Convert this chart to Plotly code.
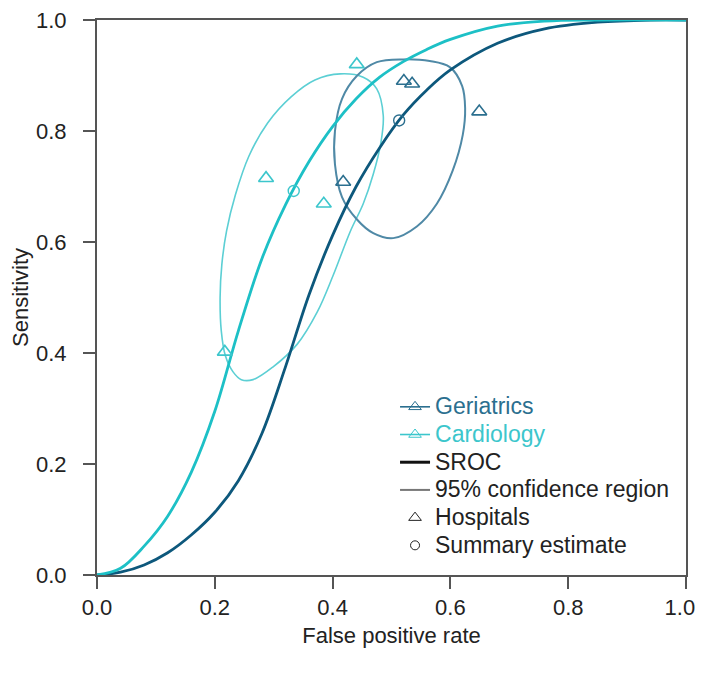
import plotly.graph_objects as go

# colours
GER = "#2b6f8f"
GER_SROC = "#0d587c"
GER_CR = "#4f89a6"
CAR = "#3cc6cc"
CAR_SROC = "#1dc0c6"
CAR_CR = "#5ccfd4"

# hospitals (false positive rate, sensitivity)
ger_fpr = [0.418, 0.521, 0.535, 0.649]
ger_sens = [0.708, 0.890, 0.885, 0.835]
car_fpr = [0.441, 0.287, 0.385, 0.217]
car_sens = [0.920, 0.715, 0.669, 0.402]

# summary estimates
ger_sum_fpr = [0.513]
ger_sum_sens = [0.819]
car_sum_fpr = [0.334]
car_sum_sens = [0.692]

# SROC curves
ger_sroc_x = [0.0, 0.04, 0.08, 0.12, 0.16, 0.20, 0.24, 0.28, 0.32, 0.36, 0.40,
              0.44, 0.48, 0.52, 0.56, 0.60, 0.68, 0.76, 0.85, 0.94, 1.0]
ger_sroc_y = [0.0, 0.005, 0.018, 0.040, 0.072, 0.113, 0.170, 0.255, 0.375, 0.505,
              0.612, 0.700, 0.770, 0.829, 0.874, 0.910, 0.958, 0.984, 0.996, 1.0, 1.0]
car_sroc_x = [0.0, 0.04, 0.08, 0.12, 0.16, 0.20, 0.24, 0.28, 0.32, 0.36, 0.40,
              0.44, 0.48, 0.52, 0.56, 0.60, 0.68, 0.76, 0.85, 1.0]
car_sroc_y = [0.0, 0.012, 0.052, 0.106, 0.185, 0.295, 0.440, 0.570, 0.667, 0.745,
              0.808, 0.858, 0.897, 0.925, 0.947, 0.965, 0.989, 0.998, 1.0, 1.0]

# 95% confidence regions
ger_cr_x = [0.520, 0.565, 0.599, 0.620, 0.625, 0.621, 0.604, 0.577, 0.543,
            0.503, 0.469, 0.441, 0.416, 0.404, 0.404, 0.416, 0.441, 0.475, 0.520]
ger_cr_y = [0.929, 0.926, 0.915, 0.881, 0.841, 0.793, 0.729, 0.669, 0.628,
            0.607, 0.616, 0.641, 0.681, 0.740, 0.800, 0.858, 0.899, 0.924, 0.929]
car_cr_x = [0.413, 0.452, 0.475, 0.486, 0.482, 0.469, 0.452, 0.430, 0.401,
            0.374, 0.340, 0.299, 0.265, 0.245, 0.231, 0.218, 0.211, 0.209,
            0.212, 0.220, 0.235, 0.258, 0.290, 0.330, 0.370, 0.413]
car_cr_y = [0.903, 0.897, 0.876, 0.828, 0.779, 0.722, 0.669, 0.619, 0.540,
            0.474, 0.416, 0.375, 0.352, 0.352, 0.366, 0.395, 0.440, 0.500,
            0.560, 0.620, 0.685, 0.755, 0.815, 0.862, 0.892, 0.903]

ticks = [0.0, 0.2, 0.4, 0.6, 0.8, 1.0]
tick_text = ["0.0", "0.2", "0.4", "0.6", "0.8", "1.0"]
# last x label nudged left with trailing spaces so it stays inside the page
x_tick_text = tick_text[:-1] + ["1.0&nbsp;&nbsp;"]

FONT = "Liberation Sans, Arial"
TXT = 22
LEG = 23

fig = go.Figure()

# confidence regions
fig.add_trace(go.Scatter(x=car_cr_x, y=car_cr_y, mode="lines", line_shape="spline",
                         line=dict(color=CAR_CR, width=1.6), showlegend=False))
fig.add_trace(go.Scatter(x=ger_cr_x, y=ger_cr_y, mode="lines", line_shape="spline",
                         line=dict(color=GER_CR, width=2), showlegend=False))

# sroc
fig.add_trace(go.Scatter(x=ger_sroc_x, y=ger_sroc_y, mode="lines", line_shape="spline",
                         line=dict(color=GER_SROC, width=2.8), showlegend=False,
                         cliponaxis=False))
fig.add_trace(go.Scatter(x=car_sroc_x, y=car_sroc_y, mode="lines", line_shape="spline",
                         line=dict(color=CAR_SROC, width=2.8), showlegend=False,
                         cliponaxis=False))

# hospitals
fig.add_trace(go.Scatter(x=ger_fpr, y=ger_sens, mode="markers", showlegend=False,
                         marker=dict(symbol="triangle-up-open", size=13, color=GER,
                                     line=dict(width=1.6))))
fig.add_trace(go.Scatter(x=car_fpr, y=car_sens, mode="markers", showlegend=False,
                         marker=dict(symbol="triangle-up-open", size=13, color=CAR,
                                     line=dict(width=1.6))))

# summary
fig.add_trace(go.Scatter(x=ger_sum_fpr, y=ger_sum_sens, mode="markers", showlegend=False,
                         marker=dict(symbol="circle-open", size=11, color=GER,
                                     line=dict(width=1.4))))
fig.add_trace(go.Scatter(x=car_sum_fpr, y=car_sum_sens, mode="markers", showlegend=False,
                         marker=dict(symbol="circle-open", size=11, color=CAR,
                                     line=dict(width=1.4))))


def lg(text, color="#222222"):
    return "<span style='font-size:%dpx;color:%s'>%s</span>" % (LEG, color, text)


# legend entries
legend_items = [
    (lg("Geriatrics", GER), "lines+markers",
     dict(color=GER, width=1.6), dict(symbol="triangle-up-open", size=11, color=GER)),
    (lg("Cardiology", CAR), "lines+markers",
     dict(color=CAR, width=1.6), dict(symbol="triangle-up-open", size=11, color=CAR)),
    (lg("SROC"), "lines", dict(color="#111111", width=3), None),
    (lg("95% confidence region"), "lines", dict(color="#777777", width=2), None),
    (lg("Hospitals"), "markers", None, dict(symbol="triangle-up-open", size=11, color="#222222")),
    (lg("Summary estimate"), "markers", None, dict(symbol="circle-open", size=9, color="#222222")),
]
for name, mode, line, marker in legend_items:
    kw = dict(x=[None], y=[None], mode=mode, name=name)
    if line:
        kw["line"] = line
    if marker:
        kw["marker"] = marker
    fig.add_trace(go.Scatter(**kw))

axis_common = dict(
    range=[0, 1], tickvals=ticks,
    showline=True, linecolor="#555555", linewidth=2, mirror=True,
    ticks="outside", ticklen=12, tickwidth=2, tickcolor="#555555",
    showgrid=False, zeroline=False, automargin=False,
    ticklabeloverflow="allow",
    tickfont=dict(family=FONT, size=TXT, color="#222222"),
)

# the page body adds an 8px margin, so the figure is kept small enough
# that the page does not scroll
fig.update_layout(
    width=696, height=650,
    margin=dict(l=89, r=18, t=12, b=83),
    plot_bgcolor="white", paper_bgcolor="white",
    font=dict(family=FONT, size=TXT, color="#222222"),
    xaxis=dict(axis_common, ticktext=x_tick_text,
               title=dict(text="False positive rate", standoff=8, font=dict(size=TXT))),
    yaxis=dict(axis_common, ticktext=tick_text, ticklabelstandoff=12,
               title=dict(text="Sensitivity", standoff=19, font=dict(size=TXT))),
    legend=dict(x=0.506, y=0.337, xanchor="left", yanchor="top",
                bgcolor="rgba(0,0,0,0)",
                font=dict(family=FONT, size=19, color="#222222")),
    showlegend=True,
)

fig.write_html("out.html")
